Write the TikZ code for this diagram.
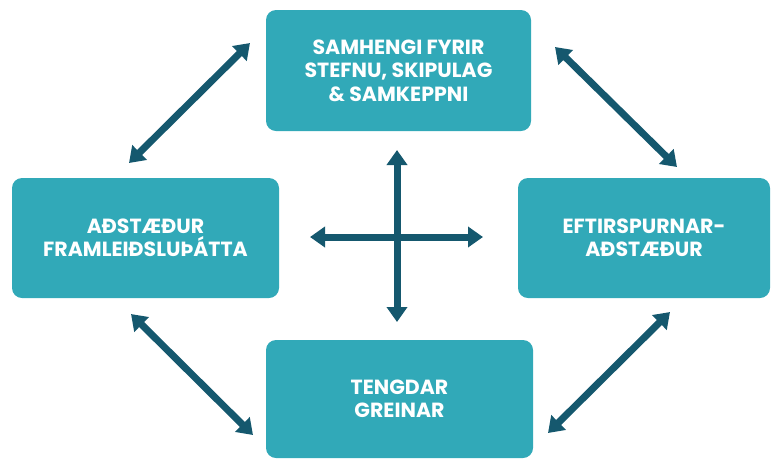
\documentclass[tikz,border=0pt]{standalone}
\usepackage{fontspec}
\setmainfont{Poppins}
\usepackage{tikz}
\usepackage{tkz-euclide}
\usetikzlibrary{calc}
\usetikzlibrary{positioning}
\usetikzlibrary{arrows.meta}
\definecolor{myteal}{RGB}{49,169,184}
\definecolor{mypetrol}{RGB}{21,88,110}

\begin{document}
\begin{tikzpicture}[%
  >={Triangle[length=15pt,width=20pt]},
  x=1pt, y=-1pt,
  box/.style={fill=myteal, rounded corners=10pt, text=white,
    font=\bfseries\fontsize{20.5}{23.5}\selectfont, align=center, inner sep=0pt},
]

  \useasboundingbox (0,0) rectangle (776,459);

  \node[box, minimum width=265pt, minimum height=121pt] (top) at (398.5,70.5)
    {SAMHENGI FYRIR\\STEFNU, SKIPULAG\\\& SAMKEPPNI};
  \node[box, minimum width=267pt, minimum height=120pt] (left) at (145.5,238)
    {AÐSTÆÐUR\\FRAMLEIÐSLUÞÁTTA};
  \node[box, minimum width=252pt, minimum height=120pt] (right) at (644,238)
    {EFTIRSPURNAR-\\AÐSTÆÐUR};
  \node[box, minimum width=267pt, minimum height=118pt] (bottom) at (399.5,399)
    {TENGDAR\\GREINAR};

  \tkzDefPoint(397,150){n}
  \tkzDefPoint(397,322){s}
  \tkzDefPoint(310,237){w}
  \tkzDefPoint(483,237){e}

  \tkzDefPoint(129,163){a1}
  \tkzDefPoint(250,43){a2}
  \tkzDefPoint(555,47){b1}
  \tkzDefPoint(677,167){b2}
  \tkzDefPoint(131,314){c1}
  \tkzDefPoint(253,435){c2}
  \tkzDefPoint(548,433){d1}
  \tkzDefPoint(670,312){d2}

  \tkzDrawSegments[<->,line width=7pt,mypetrol](n,s w,e)
  \tkzDrawSegments[<->,line width=7pt,mypetrol](a1,a2 b1,b2 c1,c2 d1,d2)

\end{tikzpicture}
\end{document}
